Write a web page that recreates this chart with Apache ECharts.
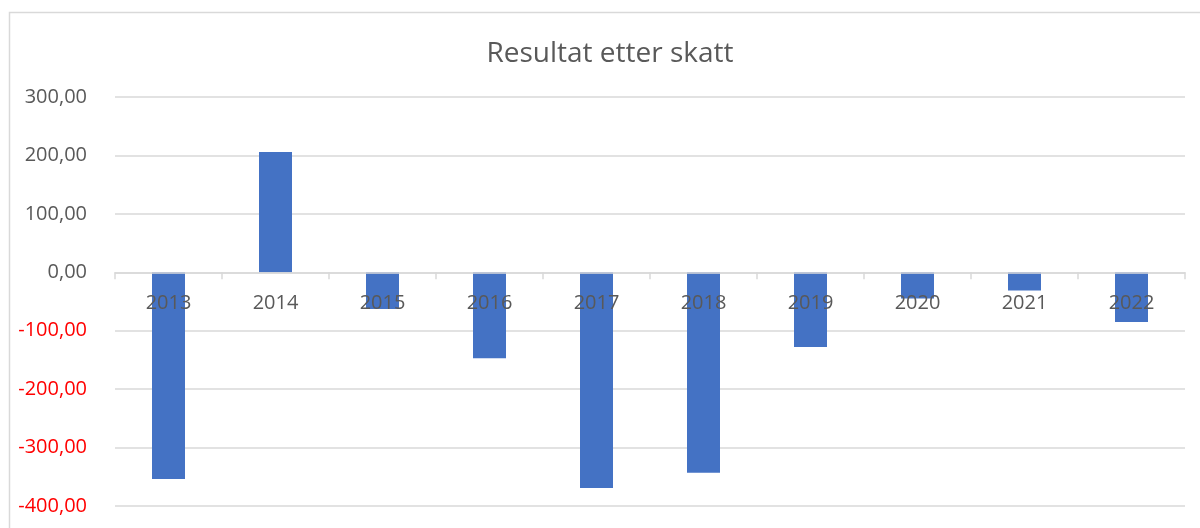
<!DOCTYPE html>
<html>
<head>
<meta charset="utf-8">
<title>Resultat etter skatt</title>
<script src="https://cdn.jsdelivr.net/npm/echarts@6/dist/echarts.min.js"></script>
<style>
  html, body { margin: 0; padding: 0; background: #ffffff; }
  #chart { width: 1200px; height: 528px; }
</style>
</head>
<body>
<div id="chart"></div>
<script>
// Årsresultat etter skatt, per år
const years = ['2013', '2014', '2015', '2016', '2017', '2018', '2019', '2020', '2021', '2022'];
const resultat = [-354, 206, -63, -147, -369, -343, -128, -45, -31, -85];
const chartTitle = 'Resultat etter skatt';
const yMin = -400;
const yMax = 300;
const yStep = 100;

const textGrey = '#595959';
const gridGrey = '#d9d9d9';
const font = 'Open Sans';

const chartHeight = 528;
const gridTop = 97;
const gridBottom = 22;
const gridHeight = chartHeight - gridTop - gridBottom;
// Kategoriaksen legges på nullinjen, med årstallene rett under den
const zeroOffset = gridHeight * (0 - yMin) / (yMax - yMin);

// Norsk tallformat: to desimaler med komma
function fmt(v) {
  return v.toFixed(2).replace('.', ',');
}

const chart = echarts.init(document.getElementById('chart'), null, { renderer: 'canvas' });

chart.setOption({
  animation: false,
  backgroundColor: '#ffffff',
  title: {
    text: chartTitle,
    left: 605,
    top: 35,
    textAlign: 'center',
    textStyle: { fontFamily: font, fontSize: 28, fontWeight: 'normal', color: textGrey }
  },
  graphic: [{
    type: 'rect',
    shape: { x: 9.5, y: 12.5, width: 1400, height: 700 },
    style: { fill: 'none', stroke: gridGrey, lineWidth: 1.5 },
    silent: true,
    z: -1
  }],
  grid: { left: 115, right: 15, top: gridTop, bottom: gridBottom, containLabel: false, outerBoundsMode: 'none' },
  xAxis: {
    type: 'category',
    data: years,
    position: 'bottom',
    offset: -zeroOffset,
    z: 3,
    axisLine: { onZero: false, lineStyle: { color: gridGrey, width: 1.5 } },
    axisTick: { show: true, length: 7, lineStyle: { color: gridGrey, width: 1.5 } },
    axisLabel: { margin: 21, fontFamily: font, fontSize: 20, color: textGrey }
  },
  yAxis: {
    type: 'value',
    min: yMin,
    max: yMax,
    interval: yStep,
    axisLine: { show: false },
    axisTick: { show: false },
    splitLine: { lineStyle: { color: gridGrey, width: 1.5 } },
    axisLabel: {
      margin: 28,
      fontFamily: font,
      fontSize: 20,
      color: textGrey,
      formatter: function (v) {
        return v < 0 ? '{neg|' + fmt(v) + '}' : '{pos|' + fmt(v) + '}';
      },
      rich: {
        neg: { color: '#ff0000', fontFamily: font, fontSize: 20 },
        pos: { color: textGrey, fontFamily: font, fontSize: 20 }
      }
    }
  },
  series: [{
    type: 'bar',
    data: resultat,
    barWidth: 33,
    itemStyle: { color: '#4472c4' }
  }]
});
</script>
</body>
</html>
